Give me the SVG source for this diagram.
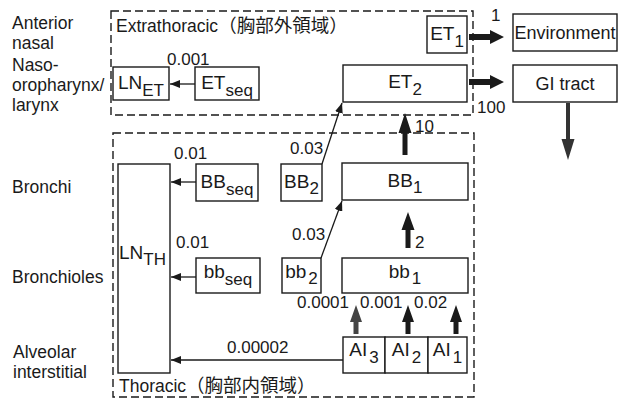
<svg xmlns="http://www.w3.org/2000/svg" width="620" height="401" viewBox="0 0 620 401">
<style>
text{font-family:"Liberation Sans",Arial,"Noto Sans CJK JP",sans-serif;fill:#1a1a1a}
.lbl{font-size:17.5px}
.num{font-size:17px}
.bl{font-size:19px;text-anchor:middle}
.sub{font-size:17px}
.box{fill:#fff;stroke:#1a1a1a;stroke-width:1.4}
.dash{fill:none;stroke:#1a1a1a;stroke-width:1.4;stroke-dasharray:8 4}
.thin{fill:none;stroke:#1a1a1a;stroke-width:1.3;marker-end:url(#ah)}
.fat{fill:#1a1a1a;stroke:none}
</style>
<defs>
<marker id="ah" markerUnits="userSpaceOnUse" markerWidth="10" markerHeight="8" refX="10" refY="4" orient="auto">
<path d="M0,0 L10,4 L0,8 z" fill="#1a1a1a"/>
</marker>
</defs>
<rect width="620" height="401" fill="#fff"/>

<g id="region-labels">
<text class="lbl" x="12" y="29">Anterior</text>
<text class="lbl" x="12" y="49">nasal</text>
<text class="lbl" x="12" y="71">Naso-</text>
<text class="lbl" x="12" y="91">oropharynx/</text>
<text class="lbl" x="12" y="111">larynx</text>
<text class="lbl" x="12" y="193">Bronchi</text>
<text class="lbl" x="12" y="283">Bronchioles</text>
<text class="lbl" x="13" y="358">Alveolar</text>
<text class="lbl" x="13" y="378">interstitial</text>
</g>

<g id="extrathoracic">
<rect class="dash" x="111" y="11" width="362" height="104"/>
<text class="lbl" x="116" y="32">Extrathoracic<tspan font-size="18.5">（胸部外領域）</tspan></text>
</g>
<g id="thoracic">
<rect class="dash" x="113" y="133" width="361" height="264"/>
<text class="lbl" x="119" y="392">Thoracic<tspan font-size="18.5">（胸部内領域）</tspan></text>
</g>

<g id="LN_ET"><rect class="box" x="113" y="67" width="56" height="33"/><text class="bl" x="141" y="89">LN<tspan class="sub" dy="7">ET</tspan></text></g>
<g id="ET_seq"><rect class="box" x="195" y="67" width="64" height="33"/><text class="bl" x="227" y="89">ET<tspan class="sub" dy="7">seq</tspan></text></g>
<g id="ET1"><rect class="box" x="427" y="16" width="40" height="37"/><text class="bl" x="447" y="40">ET<tspan class="sub" dy="7">1</tspan></text></g>
<g id="ET2"><rect class="box" x="343" y="65" width="124" height="37"/><text class="bl" x="405" y="88">ET<tspan class="sub" dy="7">2</tspan></text></g>
<g id="Environment"><rect class="box" x="513" y="14" width="104" height="37"/><text class="bl" style="font-size:18px" x="565" y="39">Environment</text></g>
<g id="GI_tract"><rect class="box" x="513" y="65" width="104" height="37"/><text class="bl" style="font-size:18px" x="565" y="90">GI tract</text></g>

<g id="LN_TH"><rect class="box" x="118" y="164" width="52" height="209"/><text style="font-size:19px" x="119" y="259">LN<tspan class="sub" dy="6">TH</tspan></text></g>
<g id="BB_seq"><rect class="box" x="196" y="164" width="62" height="37"/><text class="bl" x="227" y="188">BB<tspan class="sub" dy="7">seq</tspan></text></g>
<g id="BB2"><rect class="box" x="281" y="164" width="41" height="37"/><text class="bl" x="301.5" y="188">BB<tspan class="sub" dy="6">2</tspan></text></g>
<g id="BB1"><rect class="box" x="342" y="163" width="126" height="37"/><text class="bl" x="405" y="187">BB<tspan class="sub" dy="6">1</tspan></text></g>
<g id="bb_seq"><rect class="box" x="196" y="258" width="64" height="35"/><text class="bl" x="228" y="278">bb<tspan class="sub" dy="7">seq</tspan></text></g>
<g id="bb2"><rect class="box" x="282" y="258" width="39" height="35"/><text class="bl" x="301.5" y="278">bb<tspan class="sub" dx="2" dy="6">2</tspan></text></g>
<g id="bb1"><rect class="box" x="342" y="258" width="126" height="35"/><text class="bl" x="405" y="278">bb<tspan class="sub" dx="2" dy="6">1</tspan></text></g>
<g id="AI3"><rect class="box" x="343" y="337" width="42" height="36"/><text class="bl" x="364" y="356">AI<tspan class="sub" dx="2" dy="7">3</tspan></text></g>
<g id="AI2"><rect class="box" x="385" y="337" width="43" height="36"/><text class="bl" x="406.5" y="356">AI<tspan class="sub" dx="2" dy="7">2</tspan></text></g>
<g id="AI1"><rect class="box" x="428" y="337" width="39" height="36"/><text class="bl" x="447.5" y="356">AI<tspan class="sub" dx="2" dy="7">1</tspan></text></g>

<g id="connectors">
<line class="thin" x1="195" y1="84" x2="170" y2="84"/>
<line class="thin" x1="196" y1="182" x2="171" y2="182"/>
<line class="thin" x1="196" y1="277" x2="171" y2="277"/>
<line class="thin" x1="343" y1="360" x2="171" y2="360"/>
<line class="thin" x1="322" y1="164" x2="342" y2="103"/>
<line class="thin" x1="321" y1="258" x2="342" y2="201"/>
<path class="fat" d="M469,34 L490,34 L490,30 L504,37 L490,44 L490,40 L469,40 Z"/>
<path class="fat" d="M469,79 L490,79 L490,75 L504,82 L490,89 L490,85 L469,85 Z"/>
<path class="fat" style="fill:#333" d="M566,103 L566,139 L561.5,139 L568,160 L574.5,139 L570,139 L570,103 Z"/>
<path class="fat" d="M402.5,155 L402.5,133 L398.5,133 L405,113 L411.5,133 L407.5,133 L407.5,155 Z"/>
<path class="fat" d="M405.5,248 L405.5,230 L401.5,230 L408,212 L414.5,230 L410.5,230 L410.5,248 Z"/>
<path class="fat" style="fill:#444" d="M353.5,334 L353.5,322 L350,322 L356,305 L362,322 L358.5,322 L358.5,334 Z"/>
<path class="fat" d="M405.5,334 L405.5,322 L402,322 L408,305 L414,322 L410.5,322 L410.5,334 Z"/>
<path class="fat" d="M453.5,334 L453.5,322 L450,322 L456,305 L462,322 L458.5,322 L458.5,334 Z"/>
</g>

<g id="rate-labels">
<text class="num" x="167" y="65">0.001</text>
<text class="num" x="174" y="159">0.01</text>
<text class="num" x="176" y="248">0.01</text>
<text class="num" x="290" y="154">0.03</text>
<text class="num" x="292" y="240">0.03</text>
<text class="num" x="227" y="353">0.00002</text>
<text class="num" x="297" y="308">0.0001</text>
<text class="num" x="360" y="308">0.001</text>
<text class="num" x="414" y="308">0.02</text>
<text class="num" x="415" y="132">10</text>
<text class="num" x="415" y="248">2</text>
<text class="num" x="491" y="21">1</text>
<text class="num" x="477" y="113">100</text>
</g>
</svg>
